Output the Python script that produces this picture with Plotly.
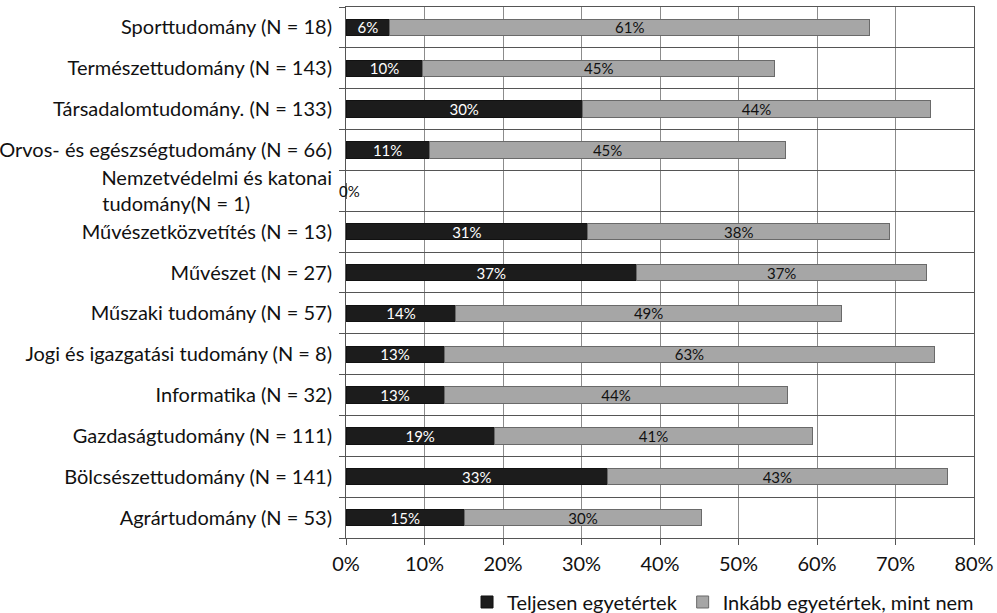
import plotly.graph_objects as go

# Survey share by field of science (percent of respondents)
categories = [
    "Sporttudomány (N = 18)",
    "Természettudomány (N = 143)",
    "Társadalomtudomány. (N = 133)",
    "Orvos- és egészségtudomány (N = 66)",
    "Nemzetvédelmi és katonai<br>tudomány(N = 1)",
    "Művészetközvetítés (N = 13)",
    "Művészet (N = 27)",
    "Műszaki tudomány (N = 57)",
    "Jogi és igazgatási tudomány (N = 8)",
    "Informatika (N = 32)",
    "Gazdaságtudomány (N = 111)",
    "Bölcsészettudomány (N = 141)",
    "Agrártudomány (N = 53)",
]
fully_agree = [5.6, 9.8, 30.1, 10.6, 0.0, 30.8, 37.0, 14.0, 12.5, 12.5, 18.9, 33.3, 15.1]
rather_agree = [61.1, 44.8, 44.4, 45.45, 0.0, 38.46, 37.0, 49.1, 62.5, 43.8, 40.54, 43.3, 30.2]
series_names = ["Teljesen egyetértek", "Inkább egyetértek, mint nem"]
x_ticks = [0, 10, 20, 30, 40, 50, 60, 70, 80]

FONT = "Lato"

# the two-line label is padded so its lines start flush left
tick_text = [c + "\u00a0" * 16 if "<br>" in c else c for c in categories]


def pct(v):
    return f"{int(v + 0.5)}%"


def labels(vals):
    return [pct(v) if v > 0 else "" for v in vals]


fig = go.Figure()
fig.add_trace(go.Bar(
    y=categories, x=fully_agree, orientation="h", name=series_names[0],
    marker=dict(color="#1c1c1c", line=dict(color="#111111", width=1)),
    text=labels(fully_agree), textposition="inside", insidetextanchor="middle",
    constraintext="none", textangle=0,
    textfont=dict(color="white", size=15, family=FONT),
    width=0.4,
))
fig.add_trace(go.Bar(
    y=categories, x=rather_agree, orientation="h", name=series_names[1],
    marker=dict(color="#a6a6a6", line=dict(color="#6a6a6a", width=1)),
    text=labels(rather_agree), textposition="inside", insidetextanchor="middle",
    constraintext="none", textangle=0,
    textfont=dict(color="#111111", size=15, family=FONT),
    width=0.4,
))

# zero-valued row gets its label at the axis origin
for cat, a, b in zip(categories, fully_agree, rather_agree):
    if a + b == 0:
        fig.add_annotation(x=0, y=cat, text=pct(a), showarrow=False, xshift=3,
                           xanchor="center", font=dict(size=15, color="#111111", family=FONT))

fig.update_layout(
    barmode="stack",
    width=997, height=613,
    margin=dict(l=346, r=23, t=7, b=75, autoexpand=False),
    paper_bgcolor="white", plot_bgcolor="white",
    font=dict(family=FONT, color="#111111"),
    showlegend=True,
    legend=dict(orientation="h", x=1.008, xanchor="right", y=-0.1205, yanchor="middle",
                font=dict(size=20, family=FONT), traceorder="normal",
                itemwidth=30, tracegroupgap=0, bgcolor="rgba(0,0,0,0)"),
    xaxis=dict(
        range=[0, 80], tickvals=x_ticks, ticktext=[f"{t}%" for t in x_ticks],
        showgrid=True, gridcolor="#8c8c8c", gridwidth=1,
        showline=True, linecolor="#555555", linewidth=1, mirror=True,
        ticks="outside", ticklen=6, tickcolor="#555555",
        ticklabelstandoff=2,
        tickfont=dict(size=20, family=FONT), zeroline=False,
    ),
    yaxis=dict(
        categoryorder="array", categoryarray=categories, autorange="reversed",
        tickmode="array", tickvals=categories, ticktext=tick_text,
        tickson="boundaries", showgrid=True, gridcolor="#555555", gridwidth=1,
        showline=True, linecolor="#555555", linewidth=1, mirror=True,
        ticks="outside", ticklen=6, tickcolor="#555555",
        ticklabelstandoff=9,
        tickfont=dict(size=20, family=FONT),
    ),
)

fig.write_html("out.html")
